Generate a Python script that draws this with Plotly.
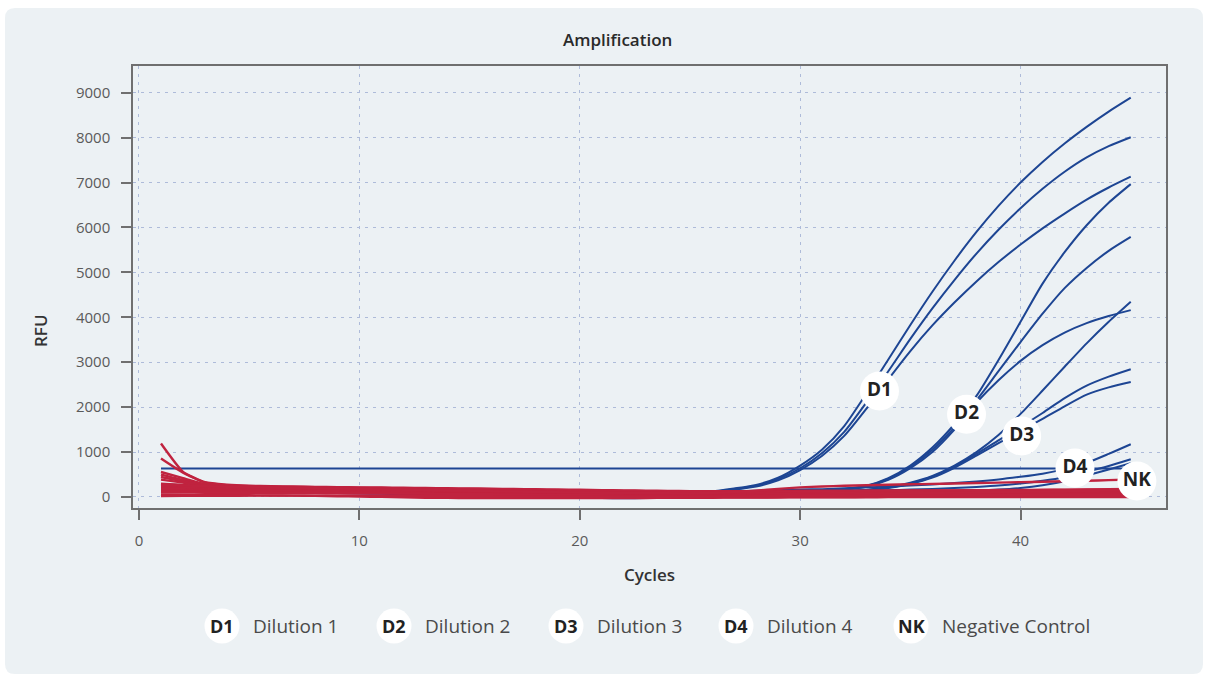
import plotly.graph_objects as go

# ---------------------------------------------------------------- data
CYCLES = list(range(1, 46))

# Dilution series (FAM channel), three replicates each
D1_A = [283, 262, 245, 232, 222, 214, 206, 198, 190, 182,
        174, 166, 158, 150, 142, 134, 126, 118, 110, 104,
        98, 94, 92, 96, 108, 125, 190, 270, 430, 700,
        1060, 1580, 2300, 3060, 3830, 4570, 5260, 5900, 6480, 7000,
        7460, 7870, 8240, 8580, 8890]
D1_B = [200, 190, 182, 175, 169, 163, 157, 151, 145, 139,
        133, 127, 121, 115, 109, 103, 97, 91, 86, 82,
        80, 80, 82, 88, 100, 120, 175, 250, 400, 640,
        980, 1450, 2100, 2800, 3520, 4200, 4830, 5420, 5950, 6430,
        6860, 7240, 7560, 7810, 8010]
D1_C = [150, 148, 146, 144, 142, 140, 137, 134, 131, 128,
        124, 120, 116, 112, 108, 104, 100, 96, 92, 88,
        86, 85, 86, 92, 102, 115, 165, 235, 370, 600,
        920, 1360, 1960, 2620, 3250, 3820, 4330, 4800, 5230, 5620,
        5980, 6310, 6620, 6890, 7130]

D2_A = [240, 226, 214, 204, 196, 188, 180, 172, 164, 156,
        148, 140, 132, 124, 116, 108, 100, 92, 85, 79,
        74, 71, 70, 72, 76, 82, 90, 98, 105, 112,
        135, 175, 250, 420, 700, 1100, 1620, 2250, 3050, 3900,
        4750, 5450, 6050, 6550, 6965]
D2_B = [180, 172, 165, 158, 151, 144, 137, 130, 123, 116,
        109, 102, 95, 88, 81, 74, 67, 60, 54, 48,
        44, 42, 42, 46, 52, 60, 70, 82, 95, 108,
        130, 170, 240, 400, 670, 1050, 1550, 2150, 2800, 3450,
        4080, 4650, 5100, 5480, 5790]
D2_C = [210, 200, 190, 181, 173, 165, 157, 149, 141, 133,
        125, 117, 109, 101, 93, 85, 77, 69, 62, 56,
        52, 50, 51, 55, 62, 70, 80, 90, 100, 110,
        128, 165, 230, 380, 640, 1000, 1500, 2100, 2600, 3030,
        3380, 3660, 3870, 4030, 4160]

D3_A = [170, 160, 150, 140, 130, 120, 110, 100, 90, 80,
        70, 60, 50, 40, 30, 20, 10, 0, -10, -20,
        -25, -28, -25, -18, -8, 5, 20, 40, 60, 85,
        110, 130, 160, 220, 320, 470, 700, 1000, 1380, 1850,
        2370, 2900, 3420, 3900, 4345]
D3_B = [190, 182, 174, 166, 158, 150, 142, 134, 126, 118,
        110, 102, 94, 86, 78, 70, 62, 54, 46, 40,
        35, 32, 32, 36, 44, 55, 70, 85, 100, 115,
        125, 135, 150, 210, 300, 450, 680, 960, 1260, 1560,
        1870, 2200, 2480, 2680, 2845]
D3_C = [160, 155, 150, 145, 140, 135, 130, 125, 120, 114,
        108, 102, 96, 90, 84, 78, 72, 66, 60, 55,
        51, 48, 47, 49, 54, 62, 72, 84, 96, 108,
        118, 128, 140, 200, 290, 430, 650, 920, 1200, 1470,
        1740, 2020, 2280, 2440, 2560]

D4_A = [220, 210, 202, 195, 189, 184, 179, 174, 169, 164,
        159, 154, 149, 144, 139, 134, 129, 124, 119, 115,
        112, 110, 110, 112, 116, 122, 130, 140, 152, 165,
        175, 195, 215, 235, 255, 280, 310, 345, 390, 450,
        520, 620, 760, 960, 1175]
D4_B = [170, 164, 158, 152, 146, 140, 134, 128, 122, 116,
        110, 104, 98, 92, 86, 80, 74, 68, 63, 58,
        55, 54, 55, 60, 68, 78, 90, 102, 114, 125,
        134, 140, 145, 150, 165, 180, 200, 225, 255, 300,
        360, 440, 560, 690, 840]
D4_C = [140, 136, 132, 128, 124, 120, 116, 112, 108, 104,
        100, 96, 92, 88, 84, 80, 76, 72, 68, 64,
        60, 58, 58, 60, 64, 70, 78, 86, 94, 100,
        104, 108, 111, 114, 117, 120, 130, 145, 165, 200,
        260, 350, 480, 610, 750]

THRESHOLD = 632

# Second channel / negative wells
R_01 = [1190, 560, 330, 275, 250, 240, 232, 226, 220, 215,
        210, 205, 200, 195, 190, 185, 178, 172, 166, 160,
        154, 148, 142, 136, 130, 128, 130, 133, 136, 138,
        140, 142, 143, 144, 145, 146, 147, 148, 149, 150,
        151, 152, 152, 153, 154]
R_02 = [855, 540, 320, 265, 242, 232, 224, 218, 212, 206,
        200, 195, 190, 184, 178, 172, 166, 160, 154, 148,
        142, 136, 130, 124, 118, 116, 117, 119, 121, 123,
        124, 125, 126, 127, 128, 129, 130, 131, 131, 132,
        132, 133, 133, 134, 134]
R_03 = [557, 420, 290, 245, 228, 218, 210, 203, 196, 189,
        182, 175, 168, 161, 154, 147, 140, 133, 126, 119,
        112, 106, 100, 95, 90, 90, 92, 95, 98, 100,
        102, 103, 104, 105, 106, 107, 108, 109, 110, 110,
        111, 111, 112, 112, 113]
R_04 = [500, 380, 275, 232, 215, 205, 197, 190, 183, 176,
        169, 162, 155, 148, 141, 134, 127, 120, 113, 106,
        100, 95, 90, 85, 82, 84, 90, 98, 106, 114,
        120, 126, 131, 136, 140, 144, 148, 152, 155, 158,
        161, 164, 166, 168, 170]
R_05 = [445, 350, 260, 222, 205, 196, 188, 180, 172, 164,
        156, 148, 140, 132, 124, 116, 108, 100, 93, 86,
        80, 74, 68, 63, 60, 60, 62, 65, 68, 71,
        73, 75, 77, 79, 80, 81, 82, 83, 84, 85,
        86, 87, 88, 89, 90]
R_06 = [387, 320, 245, 210, 195, 186, 178, 170, 162, 154,
        146, 138, 130, 122, 114, 106, 98, 90, 83, 76,
        70, 64, 58, 54, 50, 50, 51, 52, 53, 54,
        55, 55, 56, 56, 57, 57, 58, 58, 59, 59,
        60, 60, 60, 61, 61]
R_07 = [298, 270, 225, 200, 185, 176, 168, 160, 152, 144,
        136, 128, 120, 112, 104, 96, 88, 80, 73, 66,
        60, 54, 48, 44, 40, 42, 48, 56, 64, 72,
        80, 88, 95, 102, 109, 116, 123, 130, 137, 144,
        151, 158, 165, 172, 180]
R_08 = [250, 235, 205, 185, 172, 164, 156, 148, 140, 132,
        124, 116, 108, 100, 92, 84, 76, 68, 61, 54,
        48, 42, 37, 33, 30, 30, 31, 32, 33, 34,
        35, 35, 36, 36, 37, 37, 38, 38, 39, 39,
        39, 40, 40, 40, 40]
R_09 = [223, 210, 190, 172, 160, 152, 144, 136, 128, 120,
        112, 104, 96, 88, 80, 72, 64, 56, 49, 42,
        36, 31, 26, 22, 20, 22, 27, 33, 39, 45,
        50, 55, 60, 64, 68, 72, 76, 80, 83, 86,
        89, 92, 95, 97, 100]
R_10 = [180, 172, 160, 150, 142, 135, 128, 121, 114, 107,
        100, 93, 86, 79, 72, 65, 58, 51, 45, 39,
        33, 27, 21, 15, 10, 10, 11, 12, 13, 14,
        15, 15, 16, 16, 17, 17, 18, 18, 19, 19,
        19, 20, 20, 20, 20]
R_11 = [150, 145, 138, 132, 126, 120, 114, 108, 102, 96,
        90, 84, 78, 72, 66, 60, 54, 48, 42, 36,
        30, 24, 18, 12, 5, 5, 8, 12, 16, 20,
        24, 28, 32, 36, 40, 44, 48, 52, 55, 58,
        61, 64, 66, 68, 70]
R_12 = [120, 118, 115, 112, 109, 105, 101, 97, 93, 88,
        83, 78, 72, 66, 60, 54, 48, 42, 36, 30,
        24, 18, 10, 2, -10, -10, -8, -6, -4, -2,
        0, 1, 2, 3, 4, 5, 6, 7, 7, 8,
        8, 9, 9, 10, 10]
R_13 = [100, 98, 96, 94, 92, 90, 88, 86, 84, 82,
        80, 76, 72, 68, 64, 60, 56, 52, 48, 44,
        40, 34, 26, 16, 5, 8, 15, 24, 33, 42,
        50, 58, 66, 74, 82, 90, 97, 104, 111, 118,
        125, 131, 137, 143, 150]
R_14 = [50, 48, 46, 42, 38, 34, 30, 25, 18, 10,
        2, -8, -16, -20, -22, -23, -24, -24, -24, -24,
        -23, -22, -21, -20, -18, -16, -14, -12, -10, -8,
        -7, -6, -5, -4, -3, -3, -2, -2, -1, -1,
        0, 0, 0, 0, 0]
R_15 = [22, 24, 26, 28, 30, 30, 30, 29, 28, 27,
        26, 24, 22, 20, 18, 16, 14, 12, 10, 8,
        7, 6, 6, 7, 8, 10, 12, 15, 18, 21,
        24, 27, 30, 32, 34, 36, 38, 40, 42, 44,
        45, 46, 47, 48, 50]
NK = [270, 255, 240, 228, 218, 210, 202, 194, 186, 178,
      170, 162, 154, 146, 138, 130, 122, 114, 107, 100,
      94, 89, 85, 82, 80, 90, 110, 140, 180, 215,
      235, 250, 262, 273, 283, 292, 300, 310, 320, 330,
      340, 350, 362, 375, 388]

BLUE_SERIES = [D1_A, D1_B, D1_C, D2_A, D2_B, D2_C,
               D3_A, D3_B, D3_C, D4_A, D4_B, D4_C]
RED_SERIES = [R_01, R_02, R_03, R_04, R_05, R_06, R_07, R_08,
              R_09, R_10, R_11, R_12, R_13, R_14, R_15, NK]

# label tags drawn on the curves: (tag, cycle, RFU)
CURVE_TAGS = [("D1", 33.6, 2360), ("D2", 37.55, 1840), ("D3", 40.05, 1360),
              ("D4", 42.47, 645), ("NK", 45.28, 356)]
LEGEND_TAGS = ["D1", "D2", "D3", "D4", "NK"]
LEGEND_NAMES = ["Dilution 1", "Dilution 2", "Dilution 3", "Dilution 4",
                "Negative Control"]

# ---------------------------------------------------------------- style
W, H = 1208, 679
PL, PR, PT, PB = 133, 1166, 66, 508          # plot box in pixels
CARD = "#ecf1f4"
BLUE = "#1d4593"
RED = "#c0233f"
GRID = "#aebbd9"
FONT = "Open Sans"


def px(x):
    return (x - PL) / (PR - PL)


def py(y):
    return (PB - y) / (PB - PT)


fig = go.Figure()

for s in BLUE_SERIES:
    fig.add_trace(go.Scatter(x=CYCLES, y=s, mode="lines",
                             line=dict(color=BLUE, width=2, shape="spline",
                                       smoothing=0.7),
                             hoverinfo="skip", showlegend=False))

fig.add_trace(go.Scatter(x=[CYCLES[0], CYCLES[-1]], y=[THRESHOLD, THRESHOLD],
                         mode="lines", line=dict(color=BLUE, width=2),
                         hoverinfo="skip", showlegend=False))

for s in RED_SERIES:
    fig.add_trace(go.Scatter(x=CYCLES, y=s, mode="lines",
                             line=dict(color=RED, width=2.4, shape="spline",
                                       smoothing=0.5),
                             hoverinfo="skip", showlegend=False))

# white round tags on the curves
fig.add_trace(go.Scatter(
    x=[t[1] for t in CURVE_TAGS], y=[t[2] for t in CURVE_TAGS],
    mode="markers+text", text=[t[0] for t in CURVE_TAGS],
    textposition="middle center",
    textfont=dict(family=FONT, size=19, color="#222222", weight="bold"),
    marker=dict(size=39, color="white", line=dict(width=0)),
    hoverinfo="skip", showlegend=False, cliponaxis=False))

shapes = []
annotations = []

# rounded card behind everything
cx0, cx1, cy0, cy1, r = 5, 1203, 8, 674, 10
rx, ry = r / (PR - PL), r / (PB - PT)
X0, X1, Y0, Y1 = px(cx0), px(cx1), py(cy1), py(cy0)
path = (f"M {X0+rx},{Y0} L {X1-rx},{Y0} Q {X1},{Y0} {X1},{Y0+ry} "
        f"L {X1},{Y1-ry} Q {X1},{Y1} {X1-rx},{Y1} L {X0+rx},{Y1} "
        f"Q {X0},{Y1} {X0},{Y1-ry} L {X0},{Y0+ry} Q {X0},{Y0} {X0+rx},{Y0} Z")
shapes.append(dict(type="path", xref="paper", yref="paper", path=path,
                   fillcolor=CARD, line=dict(width=0), layer="below"))

# bottom key
KEY_X = [222, 394, 566, 736, 911]
KEY_Y = 626
KR = 17.5
for tag, name, kx in zip(LEGEND_TAGS, LEGEND_NAMES, KEY_X):
    shapes.append(dict(type="circle", xref="paper", yref="paper",
                       x0=px(kx - KR), x1=px(kx + KR),
                       y0=py(KEY_Y + KR), y1=py(KEY_Y - KR),
                       fillcolor="white", line=dict(width=0), layer="above"))
    annotations.append(dict(xref="paper", yref="paper", x=px(kx), y=py(KEY_Y),
                            text=f"<b>{tag}</b>", showarrow=False,
                            xanchor="center", yanchor="middle",
                            font=dict(family=FONT, size=18, color="#222222")))
    annotations.append(dict(xref="paper", yref="paper", x=px(kx + 29),
                            y=py(KEY_Y), text=name, showarrow=False,
                            xanchor="left", yanchor="middle",
                            font=dict(family=FONT, size=19, color="#4a4a4a")))

annotations.append(dict(xref="paper", yref="paper", x=px(617), y=py(39),
                        text="Amplification", showarrow=False,
                        xanchor="center", yanchor="middle",
                        font=dict(family=FONT, size=17, color="#2a2a2a",
                                  weight=600)))
annotations.append(dict(xref="paper", yref="paper", x=px(649), y=py(574),
                        text="Cycles", showarrow=False,
                        xanchor="center", yanchor="middle",
                        font=dict(family=FONT, size=17, color="#333333",
                                  weight=600)))
annotations.append(dict(xref="paper", yref="paper", x=px(40), y=py(331),
                        text="RFU", showarrow=False, textangle=-90,
                        xanchor="center", yanchor="middle",
                        font=dict(family=FONT, size=17, color="#333333",
                                  weight=600)))

axis_common = dict(showline=True, mirror=True, linecolor="#6f6f6f",
                   linewidth=1.5, ticks="outside", ticklen=10,
                   tickcolor="#6f6f6f", tickwidth=1.5,
                   showgrid=True, gridcolor=GRID, griddash="3px,5px",
                   gridwidth=1, zeroline=False,
                   tickfont=dict(family=FONT, size=15, color="#5a5a5a"),
                   ticklabelstandoff=8)

fig.update_layout(
    width=W, height=H,
    margin=dict(l=PL, r=W - PR, t=PT, b=H - PB),
    paper_bgcolor="white", plot_bgcolor=CARD,
    xaxis=dict(range=[-0.27, 46.6], tick0=0, dtick=10, **axis_common),
    yaxis=dict(range=[-245, 9595], tick0=0, dtick=1000, **axis_common),
    shapes=shapes, annotations=annotations,
    font=dict(family=FONT),
    showlegend=False,
)

fig.write_html("out.html")
